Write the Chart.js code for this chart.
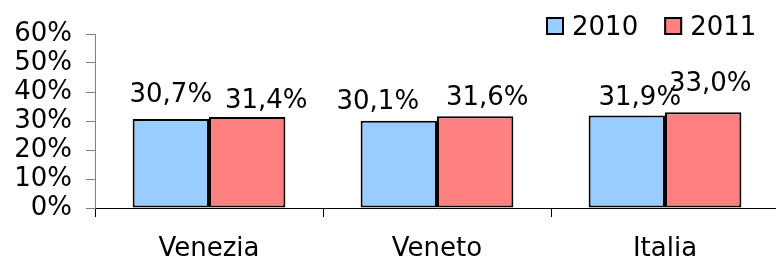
<!DOCTYPE html>
<html>
<head>
<meta charset="utf-8">
<script src="https://cdn.jsdelivr.net/npm/chart.js@4"></script>
<style>
  html, body { margin: 0; padding: 0; background: #fff; overflow: hidden; }
  #wrap { width: 779px; height: 260px; }
</style>
</head>
<body>
<div id="wrap"><canvas id="chart" width="779" height="260"></canvas></div>
<script>
// chart data
const categories = ['Venezia', 'Veneto', 'Italia'];
const values2010 = [30.7, 30.1, 31.9];
const values2011 = [31.4, 31.6, 33.0];
const seriesLabels = ['2010', '2011'];
const yTicks = [0, 10, 20, 30, 40, 50, 60];

const FONT = '"DejaVu Sans", Verdana, sans-serif';
const SIZE = 26;

const fmt = v => v.toFixed(1).replace('.', ',') + '%';

// value labels + legend drawn by hand (Excel-like placement)
const excelDecor = {
    id: 'excelDecor',
    afterDatasetsDraw(chart, args, opts) {
        const ctx = chart.ctx;
        ctx.save();
        ctx.font = SIZE + 'px ' + FONT;
        ctx.fillStyle = '#000';
        ctx.textAlign = 'center';
        ctx.textBaseline = 'alphabetic';
        chart.data.datasets.forEach((ds, i) => {
            chart.getDatasetMeta(i).data.forEach((bar, j) => {
                const n = opts.nudge[i][j];
                ctx.fillText(fmt(ds.data[j]), bar.x + n[0], bar.y - n[1]);
            });
        });

        // legend
        let x = opts.legendX;
        const y = opts.legendY;
        ctx.textAlign = 'left';
        chart.data.datasets.forEach(ds => {
            ctx.fillStyle = ds.backgroundColor;
            ctx.fillRect(x, y, 18, 18);
            ctx.lineWidth = 2;
            ctx.strokeStyle = '#000';
            ctx.strokeRect(x + 1, y + 1, 16, 16);
            ctx.fillStyle = '#000';
            ctx.fillText(ds.label, x + 26, y + 18);
            x += 26 + ctx.measureText(ds.label).width + 26;
        });
        ctx.restore();
    }
};

new Chart(document.getElementById('chart'), {
    type: 'bar',
    data: {
        labels: categories,
        datasets: [
            {
                label: seriesLabels[0],
                data: values2010,
                backgroundColor: '#99CCFF',
                borderColor: '#000',
                borderWidth: 2
            },
            {
                label: seriesLabels[1],
                data: values2011,
                backgroundColor: '#FF8080',
                borderColor: '#000',
                borderWidth: 2
            }
        ]
    },
    options: {
        responsive: false,
        animation: false,
        layout: { padding: { top: 34, left: 0, right: 0, bottom: 0 } },
        datasets: {
            bar: { barPercentage: 1, categoryPercentage: 0.67, borderSkipped: false }
        },
        plugins: {
            legend: { display: false },
            tooltip: { enabled: false },
            excelDecor: {
                legendX: 546,
                legendY: 17,
                // [dx, gap above bar top] per label
                nudge: [
                    [[0, 17], [-21, 12], [13, 10]],
                    [[19, 9], [12, 11], [7, 21]]
                ]
            }
        },
        scales: {
            x: {
                afterFit(scale) { scale.height = 52; },
                border: { display: true, color: '#000', width: 1 },
                grid: {
                    offset: true,
                    drawOnChartArea: false,
                    drawTicks: true,
                    tickLength: 9,
                    color: '#000'
                },
                ticks: {
                    color: '#000',
                    font: { family: FONT, size: SIZE },
                    padding: 17,
                    maxRotation: 0
                }
            },
            y: {
                min: 0,
                max: 60,
                afterFit(scale) { scale.width = 95; },
                afterBuildTicks(scale) {
                    scale.ticks = yTicks.map(v => ({ value: v }));
                },
                border: { display: true, color: '#808080', width: 1 },
                grid: {
                    drawOnChartArea: false,
                    drawTicks: true,
                    tickLength: 9,
                    color: '#808080'
                },
                ticks: {
                    autoSkip: false,
                    color: '#000',
                    font: { family: FONT, size: SIZE },
                    padding: 14,
                    callback: v => v + '%'
                }
            }
        }
    },
    plugins: [excelDecor]
});
</script>
</body>
</html>
